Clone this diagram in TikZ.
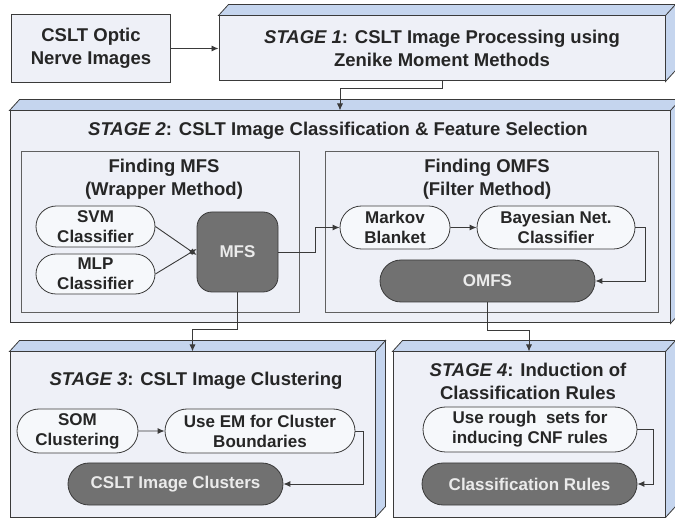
\documentclass[tikz,border=0pt]{standalone}
\usepackage{fontspec}
\setmainfont{Liberation Sans}
\usetikzlibrary{calc,arrows.meta,shapes.misc}

\definecolor{facecol}{HTML}{EEF0F7}
\definecolor{sidecol}{HTML}{C5D5EE}
\definecolor{pillcol}{HTML}{717171}
\definecolor{linecol}{HTML}{3A3A3A}
\definecolor{textcol}{HTML}{262626}

\tikzset{
  stagebox/.style={draw=linecol, line width=1pt, fill=facecol, inner sep=0pt, align=center},
  groupbox/.style={draw=gray!75!black, line width=1pt, fill=facecol, inner sep=0pt},
  title/.style={align=center, inner sep=0pt, font=\bfseries\fontsize{18.5}{23}\selectfont},
  pill/.style={rounded rectangle, draw=linecol, line width=0.8pt, fill=white!50!facecol,
    align=center, inner sep=0pt, font=\bfseries\fontsize{17}{20}\selectfont},
  result/.style={pill, fill=pillcol, text=white!92!black},
  link/.style={draw=linecol, line width=0.9pt, -{Latex[length=7pt,width=6pt]}}
}

% top and right faces of a stage box
\newcommand{\stagefaces}[1]{%
  \filldraw[fill=sidecol, draw=linecol, line width=0.8pt]
    (#1.north west) -- ++(10,-11) -- ($(#1.north east)+(10,-11)$) -- (#1.north east) -- cycle
    (#1.north east) -- ++(10,-11) -- ($(#1.south east)+(10,-11)$) -- (#1.south east) -- cycle;}

\begin{document}
\begin{tikzpicture}[x=1pt,y=-1pt,text=textcol,font=\bfseries\fontsize{18.5}{23}\selectfont]
  \useasboundingbox (0,0) rectangle (675,518);

  % input and stage 1
  \node[stagebox, minimum width=159, minimum height=68] (input) at (91,48.5) {CSLT Optic\\Nerve Images};
  \node[stagebox, minimum width=446, minimum height=65] (s1) at (442,48.5)
    {\textit{STAGE 1}: CSLT Image Processing using\\Zenike Moment Methods};
  \stagefaces{s1}

  % stage 2
  \node[stagebox, minimum width=660, minimum height=212] (s2) at (340,217) {};
  \stagefaces{s2}
  \node[title] (s2title) at (338,131) {\textit{STAGE 2}: CSLT Image Classification \& Feature Selection};
  \node[groupbox, minimum width=278, minimum height=161] (wrapper) at (160,232.5) {};
  \node[groupbox, minimum width=333, minimum height=161] (filter) at (491.5,232.5) {};
  \node[title] (wraptitle) at (164,179.5) {Finding MFS\\(Wrapper Method)};
  \node[title] (filttitle) at (487,179.5) {Finding OMFS\\(Filter Method)};
  \node[pill, minimum width=119, minimum height=41] (svm) at (95.5,226.5) {SVM\\Classifier};
  \node[pill, minimum width=119, minimum height=40] (mlp) at (95.5,274) {MLP\\Classifier};
  \node[result, rectangle, rounded corners=15pt, minimum width=81, minimum height=80] (mfs) at (237.5,252) {MFS};
  \node[pill, minimum width=110, minimum height=43] (markov) at (395,227.5) {Markov\\Blanket};
  \node[pill, minimum width=158, minimum height=43] (bayes) at (556,227.5) {Bayesian Net.\\Classifier};
  \node[result, minimum width=215, minimum height=42] (omfs) at (487.5,281) {OMFS};

  % stage 3
  \node[stagebox, minimum width=365, minimum height=165] (s3) at (192.5,434.5) {};
  \stagefaces{s3}
  \node[title] (s3title) at (196,381) {\textit{STAGE 3}: CSLT Image Clustering};
  \node[pill, minimum width=121, minimum height=44] (som) at (77.5,431) {SOM\\Clustering};
  \node[pill, minimum width=190, minimum height=44] (useem) at (260,431) {Use EM for Cluster\\Boundaries};
  \node[result, minimum width=215, minimum height=42] (clusters) at (175.5,484) {CSLT Image Clusters};

  % stage 4
  \node[stagebox, minimum width=272, minimum height=165] (s4) at (529,434.5) {};
  \stagefaces{s4}
  \node[title] (s4title) at (528,381) {\textit{STAGE 4}: Induction of\\Classification Rules};
  \node[pill, minimum width=214, minimum height=45] (rough) at (530,429.5) {Use rough\ \ sets for\\inducing CNF rules};
  \node[result, minimum width=215, minimum height=42] (rules) at (529.5,484) {Classification Rules};

  % connectors
  \draw[link] (input) -- (s1);
  \draw[link] (s1.south) -- ++(0,7) -| (s2.north);
  \draw[link] (svm.east) -- ([yshift=-3]mfs.west);
  \draw[link] (mlp.east) -- ([yshift=3]mfs.west);
  \draw[link] (mfs.east) -- ++(37,0) |- (markov.west);
  \draw[link] (markov) -- (bayes);
  \draw[link] (bayes.east) -- ++(10,0) |- (omfs.east);
  \draw[link] (mfs.south) -- ++(0,37) -| (s3.north);
  \draw[link] (omfs.south) -- ++(0,28) -| (s4.north);
  \draw[link] (som) -- (useem);
  \draw[link] (useem.east) -- ++(8,0) |- (clusters.east);
  \draw[link] (rough.east) -- ++(16,0) |- (rules.east);
\end{tikzpicture}
\end{document}
